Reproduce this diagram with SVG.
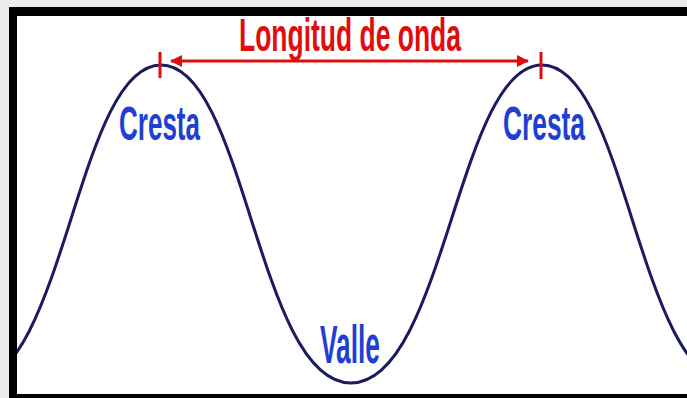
<svg xmlns="http://www.w3.org/2000/svg" width="687" height="398" viewBox="0 0 687 398">
  <defs>
    <style>
      .lbl { font-family: "Liberation Sans", "DejaVu Sans", sans-serif; font-weight: bold; }
      .blue { fill: #1f3fd2; }
      .red { fill: #e00d0d; }
      .wave { fill: none; stroke: #1b1b62; stroke-width: 3; }
      .dim { stroke: #e00d0d; stroke-width: 3; fill: none; }
    </style>
    <clipPath id="inner"><rect x="17" y="16" width="670" height="378"/></clipPath>
    <marker id="ah" viewBox="0 0 12 12" refX="11" refY="6" markerWidth="12" markerHeight="12" markerUnits="userSpaceOnUse" orient="auto-start-reverse">
      <path d="M0,0 L12,6 L0,12 Z" fill="#e00d0d"/>
    </marker>
  </defs>
  <rect x="0" y="0" width="687" height="398" fill="#ececec"/>
  <rect x="9" y="7" width="678" height="391" fill="#000"/>
  <rect x="17" y="16" width="670" height="378" fill="#ffffff"/>
  <g id="wave" clip-path="url(#inner)">
    <path class="wave" d="M-29,383 C64,383 77,65 161,65 C245,65 258,383 351,383 C444,383 458,65 542,65 C626,65 639,383 732,383"/>
  </g>
  <g id="connectors">
    <line class="dim" x1="171" y1="61" x2="528" y2="61" marker-start="url(#ah)" marker-end="url(#ah)"/>
    <line class="dim" x1="160" y1="52" x2="160" y2="78"/>
    <line class="dim" x1="541" y1="52" x2="541" y2="79"/>
  </g>
  <g id="title">
    <text class="lbl red" x="239" y="51" font-size="46" textLength="222" lengthAdjust="spacingAndGlyphs">Longitud de onda</text>
  </g>
  <g id="cresta1">
    <text class="lbl blue" x="119" y="140" font-size="48" textLength="81" lengthAdjust="spacingAndGlyphs">Cresta</text>
  </g>
  <g id="cresta2">
    <text class="lbl blue" x="503" y="140" font-size="48" textLength="82" lengthAdjust="spacingAndGlyphs">Cresta</text>
  </g>
  <g id="valle">
    <text class="lbl blue" x="320" y="363" font-size="53" textLength="60" lengthAdjust="spacingAndGlyphs">Valle</text>
  </g>
</svg>
